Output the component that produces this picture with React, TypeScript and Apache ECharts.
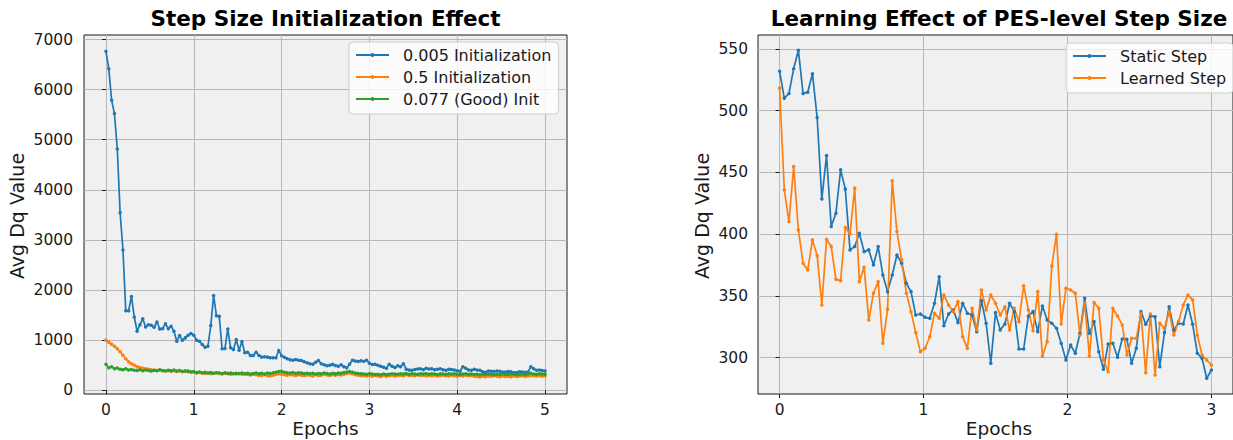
import React, { useEffect, useRef } from "react";
import * as echarts from "echarts";

// ---- Left chart: Step Size Initialization Effect ----
const leftBlue = [
  6765, 6415, 5787, 5522, 4815, 3545, 2797, 1587, 1587, 1872,
  1462, 1177, 1309, 1428, 1263, 1309, 1296, 1257, 1362, 1223,
  1230, 1329, 1230, 1276, 1177, 979, 1091, 999, 1045, 1098,
  1131, 1098, 999, 979, 913, 860, 880, 1290, 1892, 1488,
  1475, 827, 833, 1223, 847, 813, 1012, 800, 972, 747,
  760, 694, 694, 760, 694, 661, 668, 661, 648, 648,
  648, 794, 690, 660, 630, 610, 600, 615, 600, 595,
  570, 550, 530, 520, 560, 595, 530, 510, 490, 500,
  516, 495, 480, 510, 470, 450, 520, 600, 585, 575,
  590, 580, 600, 540, 515, 520, 500, 480, 460, 440,
  520, 480, 455, 490, 470, 530, 420, 405, 400, 415,
  425, 430, 410, 440, 425, 430, 410, 420, 430, 410,
  400, 420, 415, 405, 390, 380, 470, 440, 405, 400,
  420, 405, 400, 370, 360, 385, 380, 375, 385, 380,
  365, 362, 375, 370, 350, 355, 370, 365, 360, 365,
  470, 430, 400, 405, 395, 385,
];
const leftOrange = [
  1000, 960, 920, 880, 830, 770, 700, 630, 570, 530,
  500, 470, 455, 440, 430, 420, 410, 400, 395, 405,
  390, 385, 395, 380, 390, 375, 385, 370, 375, 390,
  365, 360, 345, 355, 340, 335, 345, 330, 340, 350,
  335, 325, 340, 330, 320, 335, 325, 330, 320, 325,
  315, 305, 320, 310, 300, 295, 310, 290, 285, 300,
  315, 330, 320, 310, 300, 315, 305, 295, 310, 300,
  290, 305, 300, 285, 310, 295, 300, 320, 305, 295,
  310, 300, 315, 305, 320, 335, 345, 330, 310, 300,
  290, 295, 285, 290, 280, 300, 285, 275, 295, 280,
  290, 300, 285, 295, 300, 290, 310, 295, 300, 290,
  305, 295, 300, 285, 295, 290, 300, 285, 295, 300,
  290, 285, 300, 290, 280, 295, 285, 300, 290, 295,
  280, 275, 265, 280, 270, 285, 275, 290, 280, 270,
  285, 275, 280, 270, 285, 275, 280, 290, 275, 285,
  295, 290, 285, 290, 280, 285,
];
const leftGreen = [
  520, 450, 470, 430, 445, 420, 410, 430, 405, 415,
  400, 395, 410, 390, 405, 395, 385, 400, 390, 410,
  395, 385, 400, 390, 405, 385, 395, 380, 390, 375,
  365, 375, 355, 365, 350, 360, 345, 355, 340, 350,
  345, 335, 350, 340, 345, 330, 340, 335, 345, 330,
  340, 325, 335, 345, 330, 340, 325, 345, 335, 350,
  360, 375, 380, 360, 350, 345, 355, 340, 350, 345,
  335, 340, 330, 340, 325, 335, 330, 345, 335, 325,
  340, 330, 345, 340, 355, 365, 375, 360, 345, 335,
  330, 325, 320, 330, 325, 315, 320, 310, 325, 315,
  320, 330, 325, 320, 330, 325, 335, 320, 330, 325,
  320, 330, 325, 335, 320, 330, 325, 315, 330, 325,
  320, 330, 325, 330, 320, 315, 325, 330, 320, 325,
  315, 320, 310, 320, 315, 325, 320, 310, 320, 315,
  325, 320, 315, 325, 320, 310, 320, 325, 315, 330,
  340, 325, 320, 330, 325, 320,
];
const leftNames = ["0.005 Initialization", "0.5 Initialization", "0.077 (Good) Init"];
const leftXTicks = [0, 1, 2, 3, 4, 5];
const leftYTicks = [0, 1000, 2000, 3000, 4000, 5000, 6000, 7000];
const leftEpochs = 5;

// ---- Right chart: Learning Effect of PES-level Step Size ----
const rightStatic = [
  532, 510, 514, 534, 549, 514, 515, 530, 494.5, 428.6,
  463.7, 406.2, 417, 452.1, 436.5, 387.3, 390, 400.8, 385.9, 387.3,
  375.1, 390, 367, 353.5, 367, 383.2, 376.5, 360.3, 353.5, 334.6,
  335.4, 332.7,
  331.9, 344.1, 365.6, 325.9, 335.4, 338.7, 328.4, 344.1, 336, 334.6,
  321.1, 346.2, 327.9, 295.5, 336.5, 322.4, 327.3, 344.1, 337.3, 307,
  307, 333.8, 337.3, 321.1, 341.9, 330.6, 327.9, 323.8, 311.7, 298.1,
  310.3, 303.6,
  319.8, 348.1, 319.8, 329.2, 304.9, 290.6, 311.1, 311.7, 300.3, 315.2,
  314.9, 295.5, 307.6, 337.3, 327.1, 333.8, 333.2, 292.7, 320.3, 341.3,
  322.4, 327.9, 327.3, 342.7, 327.1, 303.6, 299.5, 283.3, 290,
];
const rightLearned = [
  518.3, 435.9, 410.2, 454.8, 403.5, 376.5, 371.1, 395.4, 382.7, 342.7,
  395.9, 390, 363.5, 362.4, 405.4, 400.2, 437.3, 361.6, 373.3, 330.5,
  352.2, 361.6, 311.7, 339.2, 443.2, 402.1, 379.2, 352.2, 337.3, 320.3,
  304.9, 307.6,
  317, 336, 331.9, 350.8, 342.7, 337.3, 345.4, 317, 307.6, 340,
  322.4, 354.9, 338.7, 350.8, 344.1, 334.6, 341.3, 322.4, 340, 329.2,
  358.3, 338.7, 321.9, 353.5, 301.1, 313, 374.3, 400, 327.3, 356.2,
  354.9, 352.2,
  318.4, 344.1, 301.4, 344.6, 340, 298.1, 288.7, 340, 333.8, 326.5,
  302.2, 315.7, 315.7, 336, 287.8, 335.4, 286, 327.9, 323.8, 337.3,
  318.4, 329.2, 342.7, 350.8, 346.8, 318.4, 302.2, 298.1, 294.1,
];
const rightNames = ["Static Step", "Learned Step"];
const rightXTicks = [0, 1, 2, 3];
const rightYTicks = [300, 350, 400, 450, 500, 550];
const rightEpochs = 3;

const FONT = "DejaVu Sans";
const BLUE = "#1f77b4";
const ORANGE = "#ff7f0e";
const GREEN = "#2ca02c";
const INK = "#1a1a1a";

function toPairs(values: number[], epochs: number) {
  const n = values.length;
  return values.map((v, i) => [(i * epochs) / (n - 1), v]);
}

function makeAxis(gridIndex: number, min: number, max: number, ticks: number[], margin: number) {
  return {
    type: "value",
    gridIndex,
    min,
    max,
    axisLine: { show: false },
    axisTick: {
      show: true,
      customValues: ticks,
      length: 4,
      lineStyle: { color: INK, width: 1 },
    },
    axisLabel: {
      customValues: ticks,
      formatter: (v: number) => String(v),
      fontFamily: FONT,
      fontSize: 15.5,
      color: INK,
      margin,
    },
    splitLine: { show: true, lineStyle: { color: "#b8b8b8", width: 1 } },
  };
}

function lineSeries(name: string, data: number[][], color: string, idx: number, size: number) {
  return {
    type: "line",
    name,
    data,
    xAxisIndex: idx,
    yAxisIndex: idx,
    symbol: "circle",
    symbolSize: size,
    showSymbol: true,
    showAllSymbol: true,
    lineStyle: { color, width: 1.7 },
    itemStyle: { color },
    emphasis: { disabled: true },
  };
}

function legend(names: string[], left: number, top: number) {
  return {
    data: names,
    orient: "vertical",
    left,
    top,
    itemWidth: 33,
    itemHeight: 5,
    itemGap: 0,
    padding: [2, 7, 4, 6],
    backgroundColor: "rgba(255,255,255,0.8)",
    borderColor: "#cccccc",
    borderWidth: 1,
    borderRadius: 4,
    textStyle: {
      fontFamily: FONT,
      fontSize: 16,
      lineHeight: 22,
      color: INK,
      padding: [0, 0, 0, 9],
    },
  };
}

function text(t: string, x: number, y: number, size: number, bold: boolean, rot = 0) {
  return {
    type: "text",
    x,
    y,
    rotation: rot,
    style: {
      text: t,
      fontFamily: FONT,
      fontSize: size,
      fontWeight: bold ? "bold" : "normal",
      fill: bold ? "#000" : INK,
      textAlign: "center",
      textVerticalAlign: "middle",
    },
    silent: true,
  };
}

export default function App() {
  const ref = useRef<HTMLDivElement>(null);
  useEffect(() => {
    if (!ref.current) return;
    const chart = echarts.init(ref.current, undefined, { renderer: "svg" });
    const option = {
      animation: false,
      backgroundColor: "#ffffff",
      grid: [
        {
          left: 84, top: 35, width: 483, height: 359,
          show: true, backgroundColor: "#f0f0f0", borderColor: INK, borderWidth: 1,
        },
        {
          left: 758, top: 35, width: 482, height: 359,
          show: true, backgroundColor: "#f0f0f0", borderColor: INK, borderWidth: 1,
        },
      ],
      xAxis: [
        makeAxis(0, -0.25, 5.25, leftXTicks, 8),
        makeAxis(1, -0.15, 3.15, rightXTicks, 8),
      ],
      yAxis: [
        makeAxis(0, -75, 7090, leftYTicks, 11),
        makeAxis(1, 270.6, 561.3, rightYTicks, 10),
      ],
      legend: [legend(leftNames, 349, 42), legend(rightNames, 1066, 43)],
      graphic: [
        text("Step Size Initialization Effect", 325.5, 18, 21.5, true),
        text("Learning Effect of PES-level Step Size", 999, 18, 21.5, true),
        text("Avg Dq Value", 17, 216, 19, false, Math.PI / 2),
        text("Avg Dq Value", 702, 216, 19, false, Math.PI / 2),
        text("Epochs", 325.5, 428.5, 18.5, false),
        text("Epochs", 999, 428.5, 18.5, false),
      ],
      series: [
        lineSeries(leftNames[0], toPairs(leftBlue, leftEpochs), BLUE, 0, 3.5),
        lineSeries(leftNames[1], toPairs(leftOrange, leftEpochs), ORANGE, 0, 3.5),
        lineSeries(leftNames[2], toPairs(leftGreen, leftEpochs), GREEN, 0, 3.5),
        lineSeries(rightNames[0], toPairs(rightStatic, rightEpochs), BLUE, 1, 3.5),
        lineSeries(rightNames[1], toPairs(rightLearned, rightEpochs), ORANGE, 1, 3.5),
      ],
    };
    chart.setOption(option as any);
    return () => chart.dispose();
  }, []);
  return (
    <div
      ref={ref}
      style={{ position: "absolute", left: 0, top: 0, width: 1233, height: 440 }}
    />
  );
}
